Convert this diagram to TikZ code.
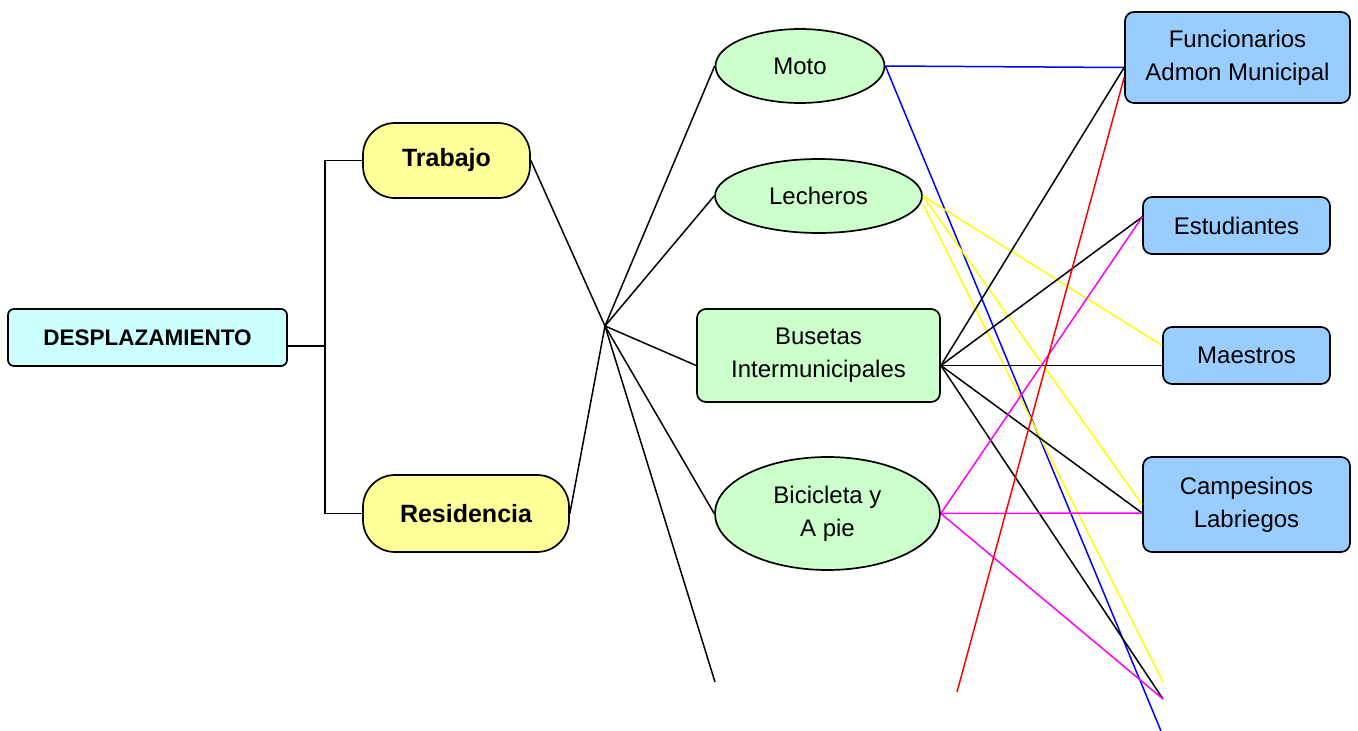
\documentclass[tikz,border=0pt]{standalone}
\usepackage{fontspec}
\setmainfont{Liberation Sans}
\usetikzlibrary{shapes.geometric,calc}
\definecolor{cyanfill}{HTML}{CCFFFF}
\definecolor{yelfill}{HTML}{FFFF99}
\definecolor{greenfill}{HTML}{CCFFCC}
\definecolor{bluefill}{HTML}{99CCFF}
\definecolor{linkyellow}{HTML}{FFFF00}
\definecolor{linkmagenta}{HTML}{FF00FF}
\definecolor{linkblue}{HTML}{0000FF}
\definecolor{linkred}{HTML}{FF0000}
\tikzset{
  base/.style={draw=black, line width=1.7pt, inner sep=0pt, align=center, font=\fontsize{24}{33}\selectfont},
  rootbox/.style={base, rectangle, rounded corners=6pt, fill=cyanfill, font=\fontsize{22.5}{27}\selectfont\bfseries},
  pillbox/.style={base, rectangle, rounded corners=32pt, fill=yelfill, font=\fontsize{25}{30}\selectfont\bfseries},
  ovalnode/.style={base, ellipse, fill=greenfill},
  greenbox/.style={base, rectangle, rounded corners=9pt, fill=greenfill},
  bluebox/.style={base, rectangle, rounded corners=9pt, fill=bluefill},
  link/.style={line width=1.5pt, black},
}
\begin{document}
\begin{tikzpicture}[x=1pt,y=-1pt]
\useasboundingbox (0,0) rectangle (1358,731);
% nodes
\node[rootbox, minimum width=279pt, minimum height=57pt] (desp) at (147.5,337.5) {DESPLAZAMIENTO};
\node[pillbox, minimum width=167pt, minimum height=75pt] (trab) at (446.5,160.5) {Trabajo};
\node[pillbox, minimum width=206pt, minimum height=77pt] (resi) at (466,513.5) {Residencia};
\node[ovalnode, minimum width=169pt, minimum height=74pt] (moto) at (800,66) {Moto};
\node[ovalnode, minimum width=207pt, minimum height=74pt] (lech) at (818.5,196) {Lecheros};
\node[greenbox, minimum width=243pt, minimum height=93pt] (bus) at (818.5,355.5) {Busetas\\Intermunicipales};
\node[ovalnode, minimum width=225pt, minimum height=113pt] (bici) at (827.5,513.5) {Bicicleta y\\A pie};
\node[bluebox, minimum width=225pt, minimum height=91pt] (func) at (1237.5,57.5) {Funcionarios\\Admon Municipal};
\node[bluebox, minimum width=187pt, minimum height=57pt] (estu) at (1236.5,225.5) {Estudiantes};
\node[bluebox, minimum width=167pt, minimum height=57pt] (maes) at (1246.5,355.5) {Maestros};
\node[bluebox, minimum width=207pt, minimum height=95pt] (camp) at (1246.5,504.5) {Campesinos\\Labriegos};
% free coordinates
\coordinate (jn) at (325,346);
\coordinate (hub) at (605,326);
\coordinate (loose) at (715,682);
\coordinate (blueend) at (1161,731);
\coordinate (yelend) at (1163,682);
\coordinate (blkend) at (1163,699);
\coordinate (redend) at (957,692);
% tree connectors
\draw[link] ([yshift=-8.5pt]desp.east) -- (jn);
\draw[link] (trab.west) -| (jn) |- (resi.west);
\draw[link] (trab.east) -- (hub);
\draw[link] (resi.east) -- (hub);
\draw[link] (hub) -- (moto.west);
\draw[link] (hub) -- (lech.west);
\draw[link] (hub) -- ([yshift=-10pt]bus.west);
\draw[link] (hub) -- (bici.west);
\draw[link] (hub) -- (loose);
% blue (Moto)
\draw[link, linkblue] (moto.east) -- ([yshift=-10pt]func.west);
\draw[link, linkblue] (moto.east) -- (blueend);
% yellow (Lecheros)
\draw[link, linkyellow] (lech.east) -- ([yshift=10pt]maes.west);
\draw[link, linkyellow] (lech.east) -- (camp.west);
\draw[link, linkyellow] ([yshift=-8pt]lech.east) -- (yelend);
% black (Busetas)
\draw[link] ([yshift=-10pt]bus.east) -- ([yshift=-10pt]func.west);
\draw[link] ([yshift=-10pt]bus.east) -- ([yshift=8.5pt]estu.west);
\draw[link] ([yshift=-10pt]bus.east) -- ([yshift=-10pt]maes.west);
\draw[link] ([yshift=-10pt]bus.east) -- ([yshift=-8.5pt]camp.west);
\draw[link] ([yshift=-10pt]bus.east) -- (blkend);
% magenta (Bicicleta)
\draw[link, linkmagenta] (bici.east) -- ([yshift=8.5pt]estu.west);
\draw[link, linkmagenta] (bici.east) -- ([yshift=-8.5pt]camp.west);
\draw[link, linkmagenta] (bici.east) -- (blkend);
% red
\draw[link, linkred] ([yshift=-20pt]func.west) -- (redend);
\end{tikzpicture}
\end{document}
